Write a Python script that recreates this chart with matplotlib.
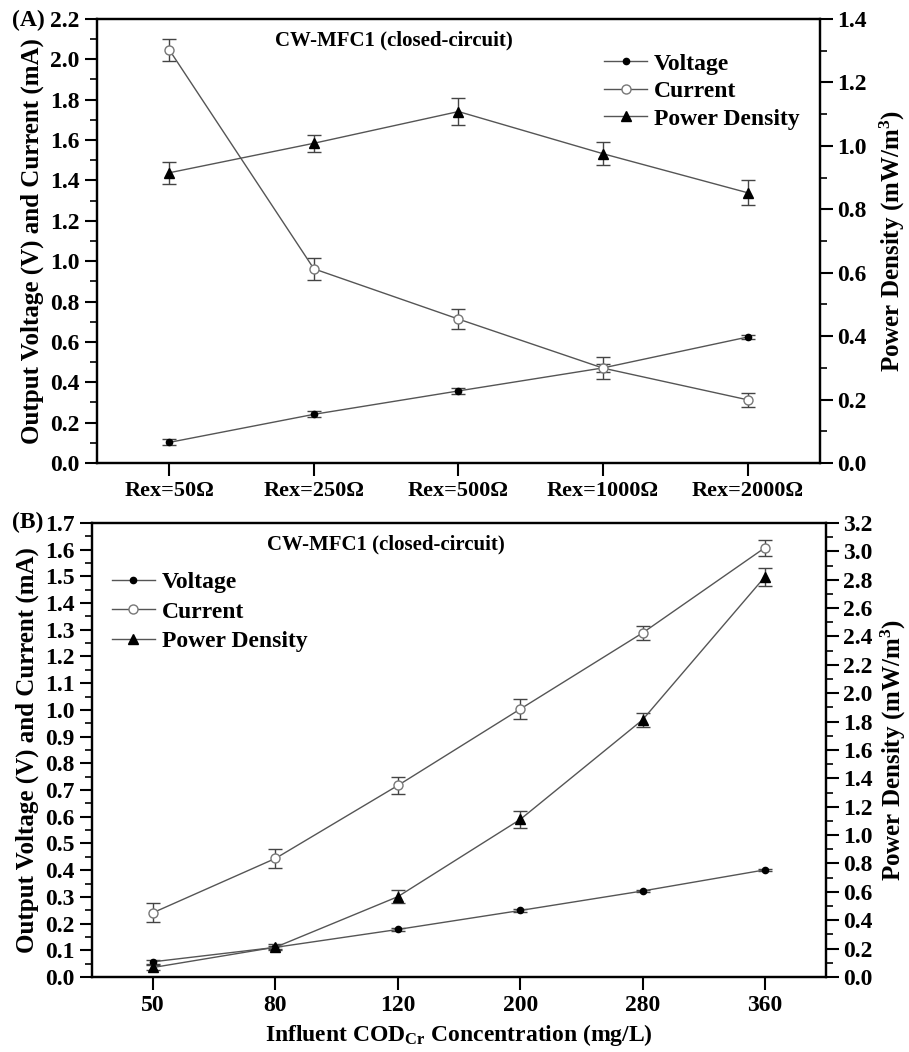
import matplotlib.pyplot as plt
from matplotlib.ticker import MultipleLocator

plt.rcParams['font.family'] = ['Liberation Serif', 'DejaVu Serif']
plt.rcParams['font.weight'] = 'bold'
plt.rcParams['axes.labelweight'] = 'bold'
plt.rcParams['mathtext.fontset'] = 'custom'
plt.rcParams['mathtext.rm'] = 'Liberation Serif:bold'
plt.rcParams['mathtext.it'] = 'Liberation Serif:bold'
plt.rcParams['mathtext.bf'] = 'Liberation Serif:bold'

# Panel A: external resistance
rex_labels = ["Rex=50Ω", "Rex=250Ω", "Rex=500Ω", "Rex=1000Ω", "Rex=2000Ω"]
a_voltage = [0.102, 0.241, 0.357, 0.471, 0.624]
a_voltage_err = [0.015, 0.015, 0.013, 0.02, 0.008]
a_current = [2.047, 0.962, 0.713, 0.47, 0.313]
a_current_err = [0.053, 0.054, 0.05, 0.055, 0.035]
a_power = [0.915, 1.008, 1.108, 0.975, 0.852]
a_power_err = [0.034, 0.027, 0.043, 0.037, 0.04]

# Panel B: influent COD concentration
cod_labels = ["50", "80", "120", "200", "280", "360"]
b_voltage = [0.057, 0.111, 0.178, 0.249, 0.322, 0.401]
b_voltage_err = [0.008, 0.006, 0.005, 0.005, 0.004, 0.004]
b_current = [0.241, 0.444, 0.717, 1.003, 1.288, 1.607]
b_current_err = [0.036, 0.035, 0.032, 0.036, 0.026, 0.029]
b_power = [0.067, 0.21, 0.566, 1.11, 1.812, 2.82]
b_power_err = [0.02, 0.02, 0.048, 0.057, 0.052, 0.062]

line_col = "#555555"
err_col = "#444444"
ytick_fs = 17
label_fs = 18


def style_axis(ax, ax2, major_l, minor_l, major_r, minor_r, xtick_fs):
    for a in (ax, ax2):
        for s in a.spines.values():
            s.set_linewidth(1.6)
    ax.yaxis.set_major_locator(MultipleLocator(major_l))
    ax.yaxis.set_minor_locator(MultipleLocator(minor_l))
    ax2.yaxis.set_major_locator(MultipleLocator(major_r))
    ax2.yaxis.set_minor_locator(MultipleLocator(minor_r))
    ax.tick_params(axis='y', which='major', direction='out', length=9, width=1.5, labelsize=ytick_fs)
    ax.tick_params(axis='x', which='major', direction='out', length=9, width=1.5, labelsize=xtick_fs, pad=4)
    ax.tick_params(axis='y', which='minor', direction='out', length=5, width=1.2)
    ax.tick_params(axis='x', which='minor', length=0)
    ax2.tick_params(axis='y', which='major', direction='out', length=9, width=1.5, labelsize=ytick_fs)
    ax2.tick_params(axis='y', which='minor', direction='out', length=5, width=1.2)


def draw_panel(ax, labels, volt, volt_e, cur, cur_e, pw, pw_e):
    x = list(range(len(labels)))
    ax2 = ax.twinx()
    hv = ax.errorbar(x, volt, yerr=volt_e, color=line_col, lw=1, marker='o', ms=4.5,
                     mfc='black', mec='black', ecolor=err_col, elinewidth=1, capsize=5, capthick=1)
    hc = ax.errorbar(x, cur, yerr=cur_e, color=line_col, lw=1, marker='o', ms=6.5,
                     mfc='white', mec='#777777', ecolor=err_col, elinewidth=1, capsize=5, capthick=1)
    hp = ax2.errorbar(x, pw, yerr=pw_e, color=line_col, lw=1, marker='^', ms=7,
                      mfc='black', mec='black', ecolor=err_col, elinewidth=1, capsize=5, capthick=1)
    ax.set_xticks(x)
    ax.set_xticklabels(labels)
    ax.set_xlim(-0.5, len(labels) - 0.5)
    return ax2, [hv[0], hc[0], hp[0]]


fig = plt.figure(figsize=(9.09, 10.52), dpi=100)

# ---- (A) ----
axA = fig.add_axes([0.1067, 0.5599, 0.7953, 0.4221])
axA2, handles = draw_panel(axA, rex_labels, a_voltage, a_voltage_err, a_current, a_current_err,
                           a_power, a_power_err)
axA.set_ylim(0, 2.2)
axA2.set_ylim(0, 1.4)
style_axis(axA, axA2, 0.2, 0.1, 0.2, 0.1, 16)
axA.set_ylabel("Output Voltage (V) and Current (mA)", fontsize=label_fs, labelpad=4)
axA2.set_ylabel("Power Density (mW/m$^3$)", fontsize=label_fs, labelpad=8)
axA.text(0.41, 0.975, "CW-MFC1 (closed-circuit)", transform=axA.transAxes, ha='center', va='top',
         fontsize=15)
axA.legend(handles, ["Voltage", "Current", "Power Density"], loc='upper right',
           bbox_to_anchor=(0.995, 0.96), frameon=False, fontsize=17, handlelength=1.8,
           handletextpad=0.3, labelspacing=0.25, borderpad=0.2)
fig.text(0.013, 0.981, "(A)", fontsize=17, va='center', ha='left')

# ---- (B) ----
axB = fig.add_axes([0.1012, 0.0713, 0.8075, 0.4316])
axB2, handles = draw_panel(axB, cod_labels, b_voltage, b_voltage_err, b_current, b_current_err,
                           b_power, b_power_err)
axB.set_ylim(0, 1.7)
axB2.set_ylim(0, 3.2)
style_axis(axB, axB2, 0.1, 0.05, 0.2, 0.1, 17)
axB.set_ylabel("Output Voltage (V) and Current (mA)", fontsize=label_fs, labelpad=4)
axB2.set_ylabel("Power Density (mW/m$^3$)", fontsize=label_fs, labelpad=4)
axB.set_xlabel("Influent COD$_{Cr}$ Concentration (mg/L)", fontsize=17, labelpad=4)
axB.text(0.4, 0.975, "CW-MFC1 (closed-circuit)", transform=axB.transAxes, ha='center', va='top',
         fontsize=15)
axB.legend(handles, ["Voltage", "Current", "Power Density"], loc='upper left',
           bbox_to_anchor=(0.005, 0.93), frameon=False, fontsize=17, handlelength=1.8,
           handletextpad=0.3, labelspacing=0.35, borderpad=0.2)
fig.text(0.013, 0.503, "(B)", fontsize=17, va='center', ha='left')

fig.savefig("out.png", dpi=100)
